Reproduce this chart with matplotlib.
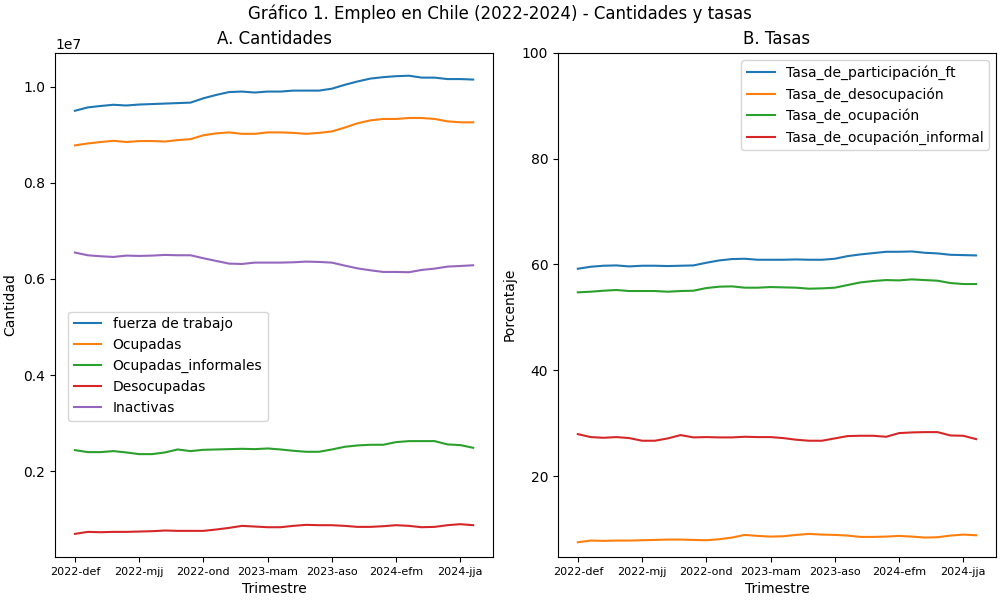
import matplotlib
matplotlib.use("Agg")
import matplotlib.pyplot as plt

# trimestres moviles (32 periodos)
meses = ['def', 'efm', 'fma', 'mam', 'amj', 'mjj', 'jja', 'jas', 'aso', 'son', 'ond', 'nde']
trimestres = [f"{2022 + i // 12}-{meses[i % 12]}" for i in range(32)]

fuerza_trabajo = [9.50, 9.57, 9.60, 9.625, 9.61, 9.63, 9.64, 9.65, 9.66, 9.67, 9.76, 9.83,
                  9.89, 9.90, 9.88, 9.90, 9.90, 9.92, 9.92, 9.92, 9.96, 10.04, 10.11, 10.17,
                  10.20, 10.22, 10.23, 10.19, 10.19, 10.16, 10.16, 10.15]
ocupadas = [8.78, 8.82, 8.85, 8.875, 8.85, 8.87, 8.87, 8.86, 8.89, 8.91, 8.99, 9.03,
            9.05, 9.02, 9.02, 9.05, 9.05, 9.04, 9.02, 9.04, 9.07, 9.15, 9.24, 9.30,
            9.33, 9.33, 9.35, 9.35, 9.33, 9.28, 9.26, 9.26]
ocupadas_informales = [2.438, 2.396, 2.396, 2.417, 2.389, 2.354, 2.354, 2.389, 2.451, 2.417, 2.444, 2.451,
                       2.458, 2.465, 2.458, 2.472, 2.451, 2.424, 2.403, 2.403, 2.451, 2.507, 2.535, 2.549,
                       2.549, 2.604, 2.625, 2.625, 2.625, 2.556, 2.542, 2.486]
desocupadas = [0.694, 0.736, 0.729, 0.736, 0.736, 0.743, 0.750, 0.764, 0.757, 0.757, 0.757, 0.785,
               0.819, 0.861, 0.847, 0.833, 0.833, 0.861, 0.882, 0.875, 0.875, 0.861, 0.840, 0.840,
               0.854, 0.875, 0.861, 0.833, 0.840, 0.875, 0.896, 0.875]
inactivas = [6.549, 6.493, 6.472, 6.458, 6.486, 6.479, 6.486, 6.500, 6.493, 6.493, 6.431, 6.375,
             6.319, 6.312, 6.340, 6.340, 6.340, 6.347, 6.361, 6.354, 6.340, 6.278, 6.220, 6.180,
             6.146, 6.146, 6.140, 6.188, 6.215, 6.257, 6.270, 6.285]

tasa_participacion = [59.18, 59.56, 59.75, 59.81, 59.62, 59.75, 59.75, 59.69, 59.75, 59.81, 60.31, 60.75,
                      61.01, 61.07, 60.88, 60.88, 60.88, 60.94, 60.88, 60.88, 61.07, 61.57, 61.89, 62.14,
                      62.39, 62.39, 62.45, 62.20, 62.08, 61.82, 61.76, 61.70]
tasa_desocupacion = [7.48, 7.80, 7.74, 7.80, 7.80, 7.86, 7.92, 7.99, 7.99, 7.92, 7.86, 8.05,
                     8.37, 8.87, 8.68, 8.55, 8.62, 8.87, 9.06, 8.93, 8.87, 8.74, 8.49, 8.49,
                     8.55, 8.68, 8.55, 8.37, 8.43, 8.74, 8.93, 8.81]
tasa_ocupacion = [54.72, 54.84, 55.03, 55.16, 54.97, 54.97, 54.97, 54.84, 54.97, 55.03, 55.53, 55.79,
                  55.85, 55.60, 55.60, 55.72, 55.66, 55.60, 55.41, 55.47, 55.60, 56.10, 56.60, 56.86,
                  57.04, 56.98, 57.17, 57.04, 56.92, 56.48, 56.29, 56.29]
tasa_informal = [27.92, 27.36, 27.23, 27.36, 27.17, 26.67, 26.67, 27.11, 27.74, 27.30, 27.36, 27.30,
                 27.30, 27.42, 27.36, 27.36, 27.17, 26.86, 26.67, 26.67, 27.11, 27.55, 27.61, 27.61,
                 27.42, 28.11, 28.24, 28.30, 28.30, 27.67, 27.61, 26.98]

x = list(range(len(trimestres)))
escala = 1e6

fig, (ax1, ax2) = plt.subplots(1, 2, figsize=(10, 6))
fig.subplots_adjust(left=0.055, right=0.996, top=0.912, bottom=0.072, wspace=0.148)

ax1.plot(x, [v * escala for v in fuerza_trabajo], label='fuerza de trabajo')
ax1.plot(x, [v * escala for v in ocupadas], label='Ocupadas')
ax1.plot(x, [v * escala for v in ocupadas_informales], label='Ocupadas_informales')
ax1.plot(x, [v * escala for v in desocupadas], label='Desocupadas')
ax1.plot(x, [v * escala for v in inactivas], label='Inactivas')
ax1.set_title('A. Cantidades')
ax1.set_xlabel('Trimestre')
ax1.set_ylabel('Cantidad')
ax1.set_xticks(x[::5])
ax1.set_xticklabels(trimestres[::5], fontsize=8)
ax1.legend(loc=(0.03, 0.27))

ax2.plot(x, tasa_participacion, label='Tasa_de_participación_ft')
ax2.plot(x, tasa_desocupacion, label='Tasa_de_desocupación')
ax2.plot(x, tasa_ocupacion, label='Tasa_de_ocupación')
ax2.plot(x, tasa_informal, label='Tasa_de_ocupación_informal')
ax2.set_ylim(top=100)
ax2.set_title('B. Tasas')
ax2.set_xlabel('Trimestre')
ax2.set_ylabel('Porcentaje')
ax2.set_xticks(x[::5])
ax2.set_xticklabels(trimestres[::5], fontsize=8)
ax2.legend(loc='upper right')

fig.suptitle('Gráfico 1. Empleo en Chile (2022-2024) - Cantidades y tasas', y=0.992)
plt.savefig('out.png', dpi=100)
